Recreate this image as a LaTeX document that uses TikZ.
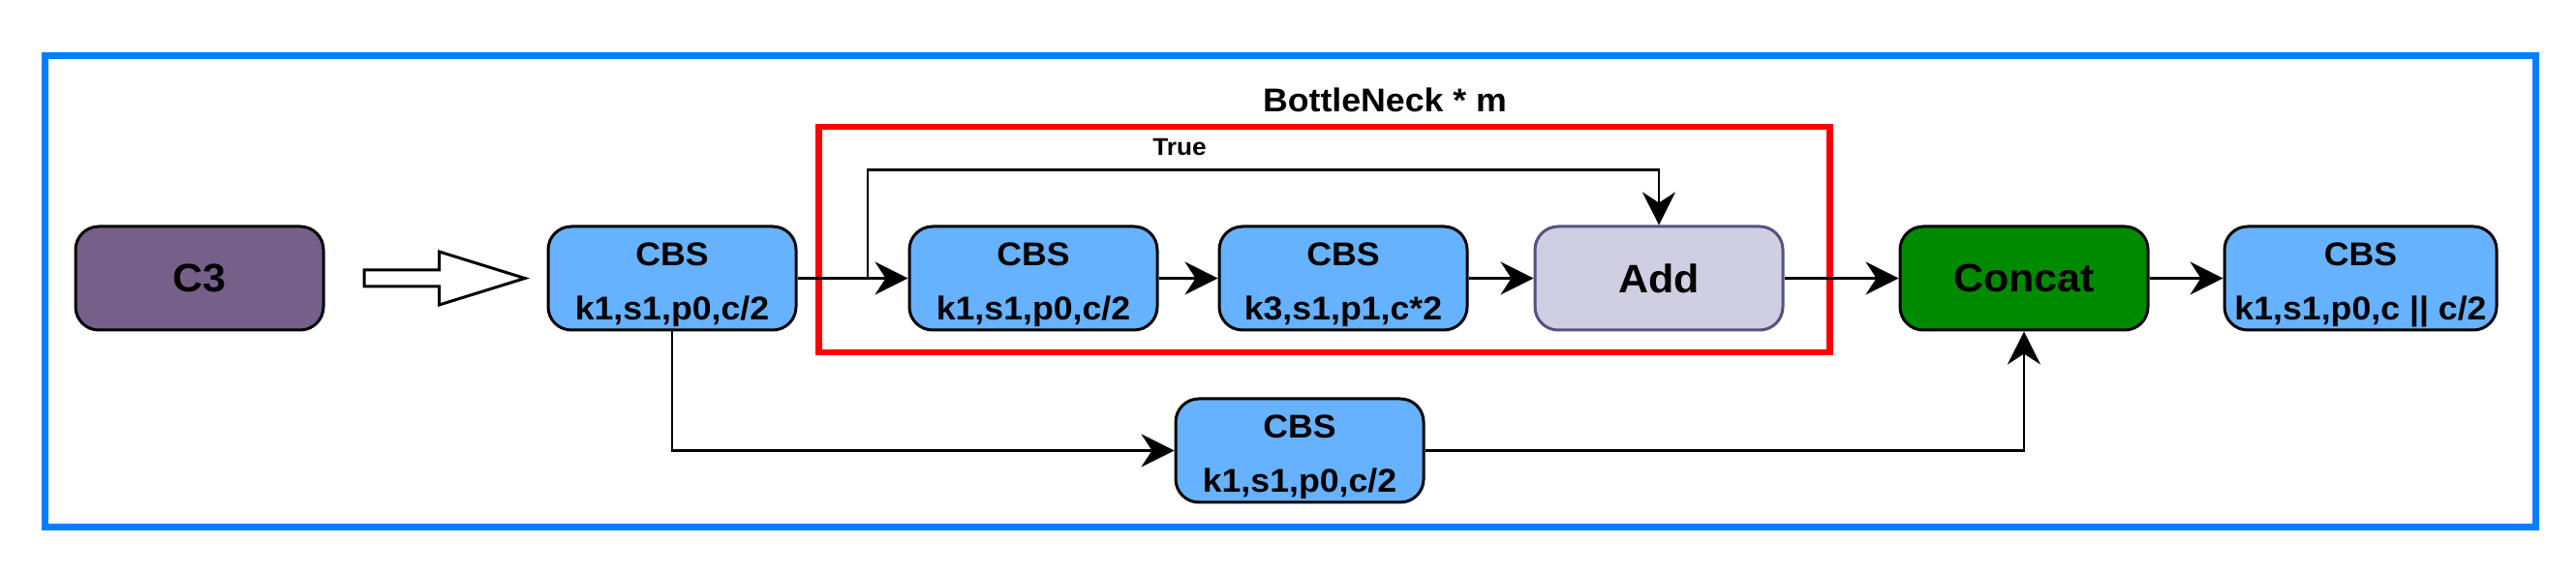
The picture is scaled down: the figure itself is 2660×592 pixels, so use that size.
\documentclass[tikz,border=0pt]{standalone}
\usepackage{fontspec}
\setmainfont{Liberation Sans}
\newfontfamily\widebold{Liberation Sans Bold}[FakeStretch=1.05]
\usetikzlibrary{arrows.meta}
\definecolor{frameblue}{HTML}{007FFF}
\definecolor{cbsblue}{HTML}{66B2FF}
\definecolor{c3purple}{HTML}{76608A}
\definecolor{addfill}{HTML}{D0CEE2}
\definecolor{addline}{HTML}{56517E}
\definecolor{catgreen}{HTML}{008A00}
\definecolor{bnred}{HTML}{FF0000}

% CBS block: name, centre, parameter line, width
\newcommand\cbsnode[4]{%
  \node[cbs, minimum width=#4] (#1) at (#2) {};
  \node[lbl] (#1-t) at ([yshift=6.25pt]#1.center) {CBS};
  \node[lbl] (#1-p) at ([yshift=-21.5pt]#1.center) {#3};
}

\begin{document}
\begin{tikzpicture}[x=0.5pt,y=-0.5pt,
  block/.style={draw=black, line width=1.5pt, rounded corners=12pt,
    minimum width=128pt, minimum height=53.5pt, inner sep=0pt,
    font=\fontsize{20.5}{24}\widebold},
  cbs/.style={block, fill=cbsblue},
  lbl/.style={font=\fontsize{17}{20}\widebold, anchor=base, inner sep=0pt},
  arr/.style={line width=1.3pt, -{Stealth[length=17pt,width=17pt,inset=5.5pt]}},
]
\useasboundingbox (0,0) rectangle (2660,592);

% outer frame and bottleneck frame
\draw[frameblue, line width=3.5pt] (46,58) rectangle (2618,545);
\draw[bnred, line width=3.2pt] (845.5,131) rectangle (1889.5,364);
\node[lbl] (bntitle) at (1430,116) {BottleNeck * m};
\node[font=\fontsize{12.5}{15}\widebold, inner sep=0pt] (truelbl) at (1218,152) {True};

% blocks
\node[block, fill=c3purple] (c3) at (206,287.5) {C3};
\cbsnode{b1}{694,287.5}{k1,s1,p0,c/2}{128pt}
\cbsnode{b2}{1067,287.5}{k1,s1,p0,c/2}{128pt}
\cbsnode{b3}{1387,287.5}{k3,s1,p1,c*2}{128pt}
\node[block, fill=addfill, draw=addline] (add) at (1713,287.5) {Add};
\node[block, fill=catgreen] (cat) at (2090,287.5) {Concat};
\cbsnode{b4}{2437.5,287.5}{k1,s1,p0,c || c/2}{140.5pt}
\cbsnode{b5}{1342,465.5}{k1,s1,p0,c/2}{128pt}

% hollow arrow from C3
\draw[line width=1.5pt, fill=white]
  (376,279) -- (453.5,279) -- (453.5,260) -- (542,287.5)
  -- (453.5,315) -- (453.5,296) -- (376,296) -- cycle;

% connectors
\coordinate (split) at (896,287.5);
\coordinate (skiptop) at (896,175.5);
\draw[arr] (b1.east) -- (b2.west);
\draw[arr] (b2.east) -- (b3.west);
\draw[arr] (b3.east) -- (add.west);
\draw[arr] (split) -- (skiptop) -| (add.north);
\draw[arr] (add.east) -- (cat.west);
\draw[arr] (cat.east) -- (b4.west);
\draw[arr] (b1.south) |- (b5.west);
\draw[arr] (b5.east) -| (cat.south);
\end{tikzpicture}
\end{document}
